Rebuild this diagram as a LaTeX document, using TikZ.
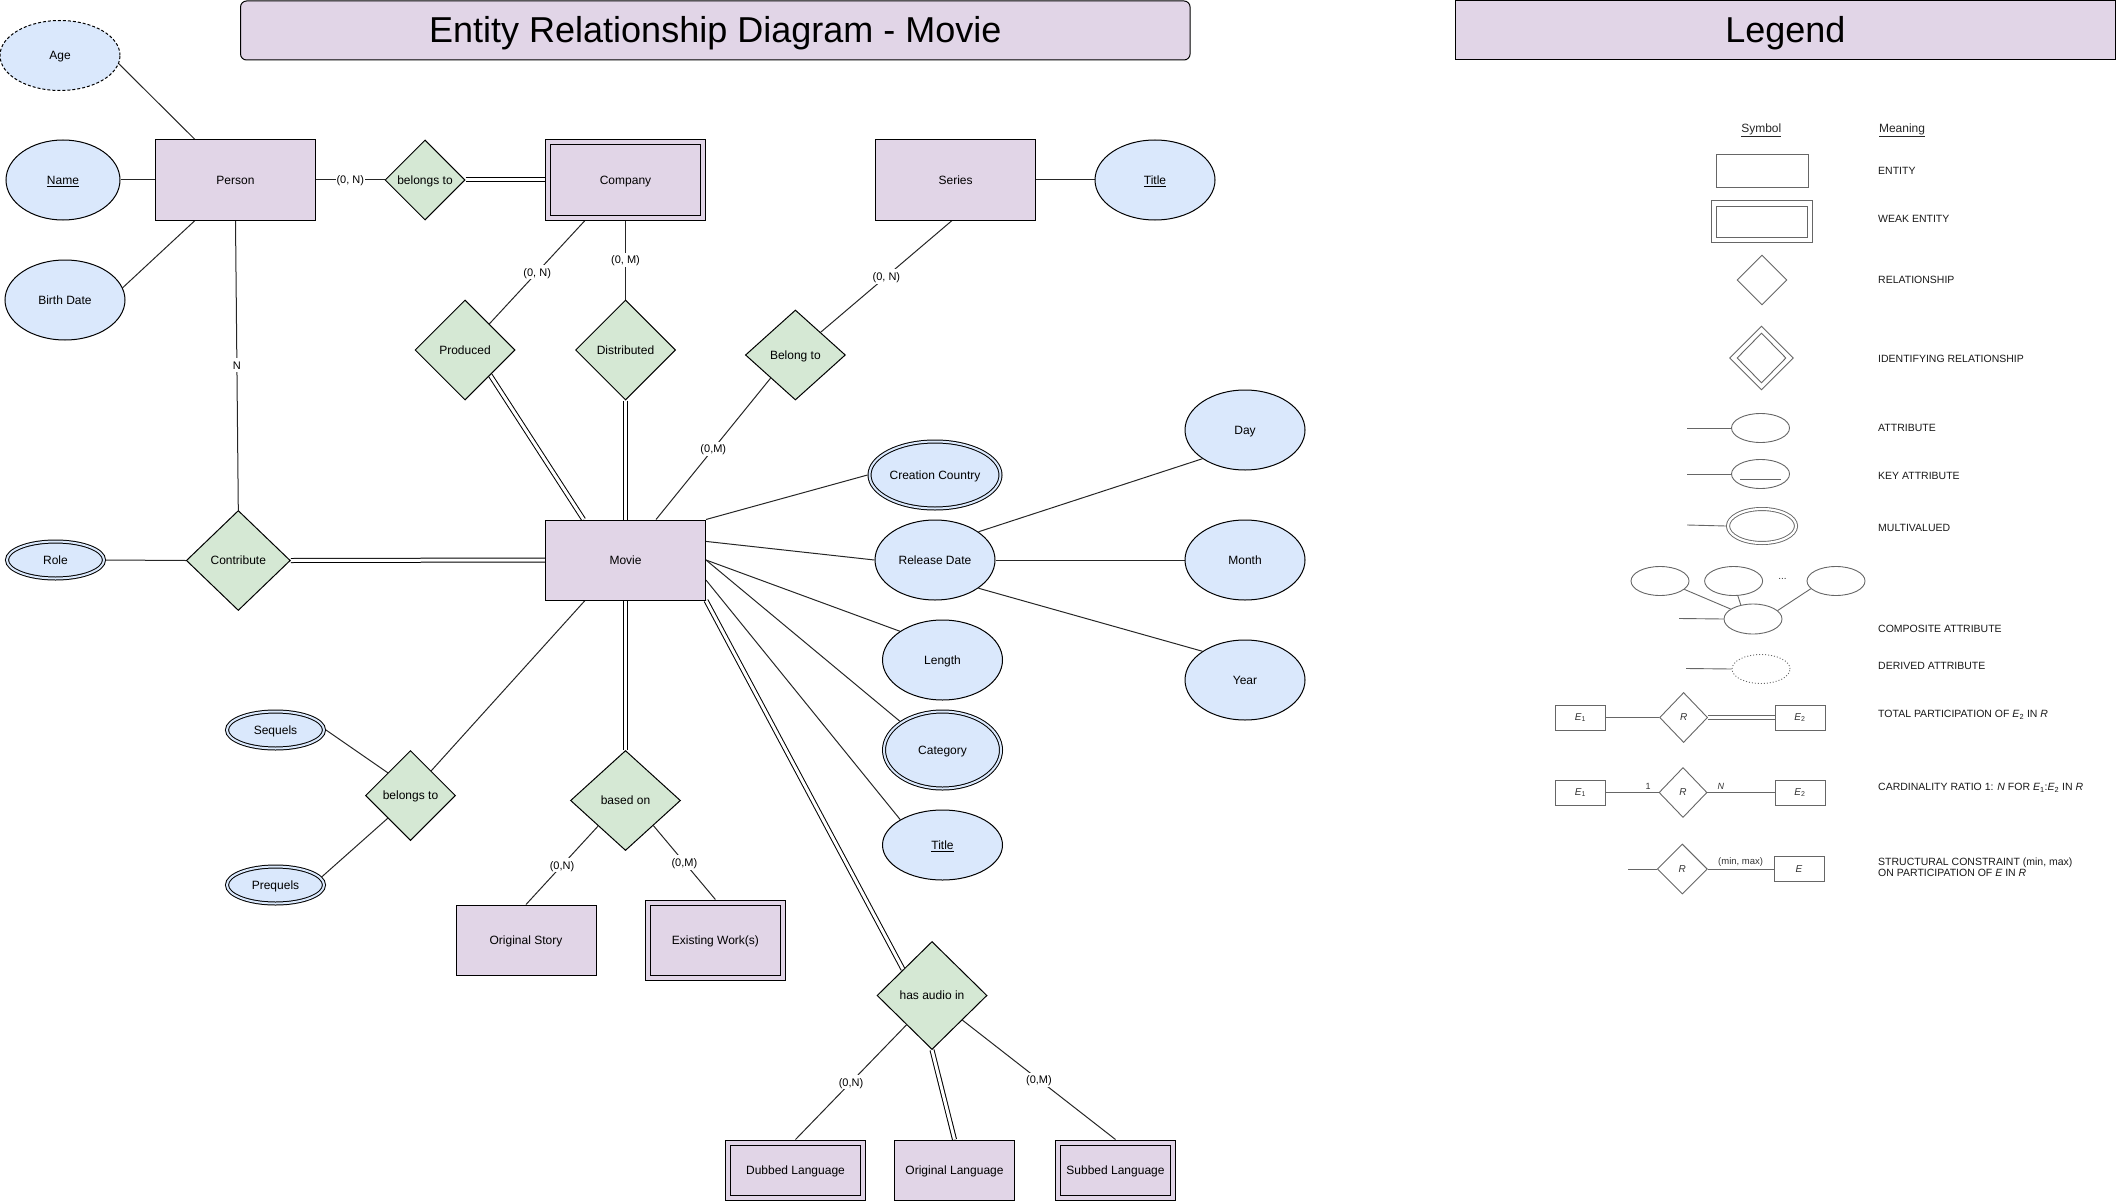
\documentclass[tikz,border=0pt]{standalone}
\usepackage{fontspec}
\setmainfont{Liberation Sans}
\usetikzlibrary{shapes.geometric,backgrounds}
\definecolor{entfill}{HTML}{E1D5E7}
\definecolor{attfill}{HTML}{DAE8FC}
\definecolor{relfill}{HTML}{D5E8D4}
\newcommand\setfs[1]{\fontsize{#1}{#1}\selectfont}
\newcommand\Ei[1]{\textit{E}\textsubscript{#1}}
\begin{document}
\begin{tikzpicture}[x=1pt,y=-1pt,
  every node/.style={font=\setfs{12}, text=black},
  t12/.style={text height=10.9pt, text depth=2.5pt},
  titlebox/.style={draw=black, line width=1pt, fill=entfill, inner sep=0pt, font=\setfs{36}, text height=32.6pt, text depth=7.6pt},
  ent/.style={draw=black, line width=1pt, fill=entfill, minimum width=160pt, minimum height=80pt, inner sep=0pt, t12},
  weak/.style={ent, double=entfill, double distance=4pt, outer sep=3pt},
  att/.style={ellipse, draw=black, line width=1pt, fill=attfill, minimum width=120pt, minimum height=80pt, inner sep=0pt, t12},
  matt/.style={att, double=attfill, double distance=2pt, outer sep=2pt},
  rel/.style={diamond, draw=black, line width=1pt, fill=relfill, inner sep=0pt, t12},
  conn/.style={draw=black!85, line width=1pt},
  dbl/.style={draw=black, line width=1pt, double=white, double distance=3pt},
  lbl/.style={fill=white, inner sep=1pt, font=\setfs{11}, text height=10pt, text depth=2.3pt},
  lgline/.style={draw=black!60, line width=0.9pt},
  lgbox/.style={lgline, inner sep=0pt, font=\setfs{10}, text=black!80},
  lgdia/.style={lgbox, diamond},
  lgell/.style={lgbox, ellipse, minimum width=58pt, minimum height=29pt},
  lgtext/.style={anchor=west, inner sep=0pt, font=\setfs{10.5}, text=black!90},
]
\useasboundingbox (0,0) rectangle (2116,1201);

% ---------- titles ----------
\node[titlebox, rounded corners=6pt, minimum width=949.5pt, minimum height=59pt] (title) at (715.3,30.5) {Entity Relationship Diagram - Movie};
\node[titlebox, minimum width=659.5pt, minimum height=59pt] (legend) at (1785.3,30.5) {Legend};

% ---------- entities ----------
\node[ent] (person) at (235.5,180) {Person};
\node[weak, minimum width=155pt, minimum height=75pt] (company) at (625.5,180) {Company};
\node[ent] (series) at (955.6,180) {Series};
\node[ent] (movie) at (625.5,560) {Movie};
\node[ent, minimum width=140pt, minimum height=70pt] (origstory) at (526,940) {Original Story};
\node[weak, minimum width=135pt, minimum height=75pt] (existing) at (715.4,940) {Existing Work(s)};
\node[weak, minimum width=135pt, minimum height=55pt] (dubbed) at (795.5,1170) {Dubbed Language};
\node[ent, minimum width=120pt, minimum height=60pt] (origlang) at (954.5,1170) {Original Language};
\node[weak, minimum width=115pt, minimum height=55pt] (subbed) at (1115.5,1170) {Subbed Language};

% ---------- attributes ----------
\node[att, dash pattern=on 3pt off 2pt, minimum height=70pt] (age) at (60,55.5) {Age};
\node[att, minimum width=114pt] (name) at (63,180) {\underline{Name}};
\node[att] (birth) at (65,300) {Birth Date};
\node[att] (stitle) at (1155,180) {\underline{Title}};
\node[matt, minimum width=131pt, minimum height=67pt] (country) at (935,475) {Creation Country};
\node[att] (release) at (935,560) {Release Date};
\node[att] (day) at (1245,430) {Day};
\node[att] (month) at (1245,560) {Month};
\node[att] (year) at (1245,680) {Year};
\node[att] (length) at (942.5,660) {Length};
\node[matt, minimum width=117pt, minimum height=77pt] (category) at (942.5,750) {Category};
\node[att, minimum height=70pt] (mtitle) at (942.5,845) {\underline{Title}};
\node[matt, minimum width=97pt, minimum height=37pt] (role) at (55.5,560) {Role};
\node[matt, minimum width=97pt, minimum height=37pt] (sequels) at (275.5,730) {Sequels};
\node[matt, minimum width=97pt, minimum height=37pt] (prequels) at (275.5,885) {Prequels};

% ---------- relationships ----------
\node[rel, minimum width=80pt, minimum height=80pt] (bt1) at (425,180) {belongs to};
\node[rel, minimum width=100pt, minimum height=100pt] (produced) at (465,350) {Produced};
\node[rel, minimum width=100pt, minimum height=100pt] (distributed) at (625.5,350) {Distributed};
\node[rel, minimum width=100pt, minimum height=90pt] (belongto) at (795.4,355) {Belong to};
\node[rel, minimum width=104pt, minimum height=100pt] (contribute) at (238.3,560.5) {Contribute};
\node[rel, minimum width=90pt, minimum height=90pt] (bt2) at (410.5,795.5) {belongs to};
\node[rel, minimum width=110pt, minimum height=100pt] (basedon) at (625.5,800.5) {based on};
\node[rel, minimum width=110pt, minimum height=108pt] (hasaudio) at (932,995.5) {has audio in};

% ---------- connectors ----------
\begin{scope}[on background layer]
\draw[conn] (person.135) -- (age.-8);
\draw[conn] (person.west) -- (name.east);
\draw[conn] (person.225) -- (birth.12);
\draw[conn] (person.east) -- node[lbl]{(0, N)} (bt1.west);
\draw[dbl] (bt1.east) -- (company.west);
\draw[conn] (company.-135) -- node[lbl]{(0, N)} (produced.47);
\draw[conn] (company.south) -- node[lbl]{(0, M)} (distributed.north);
\draw[conn] (series.east) -- (stitle.west);
\draw[conn] (series.-95) -- node[lbl]{(0, N)} (belongto.42);
\draw[conn] (belongto.-137) -- node[lbl]{(0,M)} (movie.53);
\draw[dbl] (produced.-45) -- (movie.136);
\draw[dbl] (distributed.south) -- (movie.north);
\draw[conn] (movie.north east) -- (country.west);
\draw[conn] (movie.13.6) -- (release.west);
\draw[conn] (release.33) -- (day.-146);
\draw[conn] (release.east) -- (month.west);
\draw[conn] (release.-33) -- (year.146.6);
\draw[conn] (movie.east) -- (length.146);
\draw[conn] (movie.east) -- (category.146);
\draw[conn] (movie.-14) -- (mtitle.149);
\draw[dbl] (movie.south east) -- (hasaudio.138);
\draw[conn] (hasaudio.-131.6) -- node[lbl]{(0,N)} (dubbed.north);
\draw[dbl] (hasaudio.south) -- (origlang.north);
\draw[conn] (hasaudio.-39) -- node[lbl]{(0,M)} (subbed.north);
\draw[conn] (person.south) -- node[lbl]{N} (contribute.north);
\draw[conn] (role.east) -- (contribute.west);
\draw[dbl] (contribute.east) -- (movie.west);
\draw[conn] (bt2.50) -- (movie.-135);
\draw[conn] (sequels.east) -- (bt2.135);
\draw[conn] (prequels.10) -- (bt2.-135);
\draw[dbl] (movie.south) -- (basedon.north);
\draw[conn] (basedon.-137.7) -- node[lbl]{(0,N)} (origstory.north);
\draw[conn] (basedon.-42.6) -- node[lbl]{(0,M)} (existing.north);
\end{scope}

% ---------- legend ----------
\node[inner sep=0pt, text=black!85] (lsym) at (1761.3,130.7) {\underline{Symbol}};
\node[inner sep=0pt, text=black!85] (lmean) at (1902,130.7) {\underline{Meaning}};

\node[lgbox, minimum width=92pt, minimum height=33pt] (lent) at (1762.5,171) {};
\node[lgtext] (tent) at (1878,171) {ENTITY};

\node[lgbox, minimum width=100.7pt, minimum height=42pt] (lweak) at (1762.2,221.7) {};
\node[lgbox, minimum width=91pt, minimum height=31pt] (lweakin) at (1762.2,221.7) {};
\node[lgtext] (tweak) at (1878,219.3) {WEAK ENTITY};

\node[lgdia, minimum width=50pt, minimum height=50pt] (lrel) at (1762,280) {};
\node[lgtext] (trel) at (1878,280.3) {RELATIONSHIP};

\node[lgdia, minimum width=64pt, minimum height=64pt] (lid) at (1761.5,358) {};
\node[lgdia, minimum width=49pt, minimum height=50pt] (lidin) at (1761.5,358) {};
\node[lgtext] (tid) at (1878,359.3) {IDENTIFYING RELATIONSHIP};

\node[lgell] (lattr) at (1760.5,428) {};
\coordinate (lattrend) at (1687,428);
\draw[lgline] (lattrend) -- (lattr.west);
\node[lgtext] (tattr) at (1878,427.7) {ATTRIBUTE};

\node[lgell] (lkey) at (1760.5,474) {};
\coordinate (lkeyend) at (1687,474);
\draw[lgline] (lkeyend) -- (lkey.west);
\draw[lgline] (1740,479.5) -- (1781,479.5);
\node[lgtext] (tkey) at (1878,475.7) {KEY ATTRIBUTE};

\node[lgell, minimum width=68pt, minimum height=34pt, double=white, double distance=2.2pt, outer sep=2pt] (lmv) at (1762,526) {};
\coordinate (lmvend) at (1687,525);
\draw[lgline] (lmvend) -- (lmv.west);
\node[lgtext] (tmv) at (1878,528) {MULTIVALUED};

\node[lgell] (lc1) at (1660,581) {};
\node[lgell] (lc2) at (1733.6,581) {};
\node[lgell] (lc3) at (1836,581) {};
\node[inner sep=0pt, font=\setfs{10}, text=black!80] (ldots) at (1782.4,579) {...};
\node[lgell, minimum height=30pt] (lcb) at (1753,619) {};
\draw[lgline] (lc1.-19) -- (lcb.156);
\draw[lgline] (lc2.-74) -- (lcb.131);
\draw[lgline] (lc3.-163) -- (lcb.19);
\coordinate (lcbend) at (1679,618.5);
\draw[lgline] (lcbend) -- (lcb.west);
\node[lgtext] (tcomp) at (1878,629.3) {COMPOSITE ATTRIBUTE};

\node[lgell, dash pattern=on 1pt off 2pt] (lder) at (1761,669) {};
\coordinate (lderend) at (1686,668.5);
\draw[lgline] (lderend) -- (lder.west);
\node[lgtext] (tder) at (1878,665.7) {DERIVED ATTRIBUTE};

\node[lgbox, minimum width=50pt, minimum height=25pt] (te1) at (1580.4,717.5) {\Ei{1}};
\node[lgdia, minimum width=48pt, minimum height=50pt] (tr) at (1683.6,717.5) {\textit{R}};
\node[lgbox, minimum width=50pt, minimum height=25pt] (te2) at (1800,717.5) {\Ei{2}};
\draw[lgline] (te1.east) -- (tr.west);
\draw[lgline, double=white, double distance=2.5pt] (tr.east) -- (te2.west);
\node[lgtext] (ttot) at (1878,715) {TOTAL PARTICIPATION OF \Ei{2} IN \textit{R}};

\node[lgbox, minimum width=50pt, minimum height=25pt] (ce1) at (1580.4,792.5) {\Ei{1}};
\node[lgdia, minimum width=48pt, minimum height=50pt] (cr) at (1683,792.5) {\textit{R}};
\node[lgbox, minimum width=50pt, minimum height=25pt] (ce2) at (1800,792.5) {\Ei{2}};
\draw[lgline] (ce1.east) -- node[pos=0.8, above=3pt, inner sep=0pt, font=\setfs{9}, text=black!80]{1} (cr.west);
\draw[lgline] (cr.east) -- node[pos=0.2, above=3pt, inner sep=0pt, font=\setfs{9}, text=black!80]{\textit{N}} (ce2.west);
\node[lgtext] (tcard) at (1878,787.7) {CARDINALITY RATIO 1: \textit{N} FOR \Ei{1}:\Ei{2} IN \textit{R}};

\coordinate (sstart) at (1628.2,869);
\node[lgdia, minimum width=50pt, minimum height=50pt] (sr) at (1682.3,869) {\textit{R}};
\node[lgbox, minimum width=50pt, minimum height=25pt] (se) at (1799,869) {\textit{E}};
\draw[lgline] (sstart) -- (sr.west);
\draw[lgline] (sr.east) -- node[above=2pt, inner sep=0pt, font=\setfs{9.5}, text=black!80]{(min, max)} (se.west);
\node[lgtext] (tstr1) at (1878,862.3) {STRUCTURAL CONSTRAINT (min, max)};
\node[lgtext] (tstr2) at (1878,872.7) {ON PARTICIPATION OF \textit{E} IN \textit{R}};
\end{tikzpicture}
\end{document}
